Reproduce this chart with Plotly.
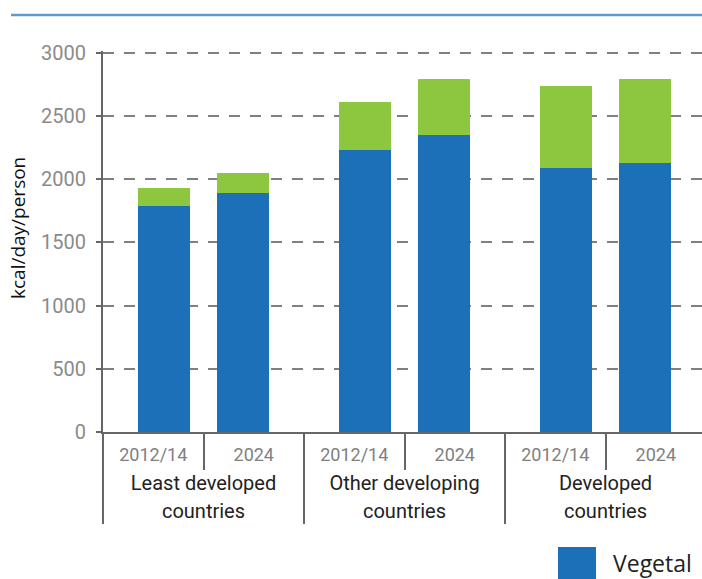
import plotly.graph_objects as go

groups = ["Least developed<br>countries", "Least developed<br>countries",
          "Other developing<br>countries", "Other developing<br>countries",
          "Developed<br>countries", "Developed<br>countries"]
years = ["2012/14", "2024", "2012/14", "2024", "2012/14", "2024"]
vegetal = [1790, 1895, 2230, 2350, 2090, 2125]
totals = [1932, 2053, 2615, 2790, 2740, 2790]
animal = [t - v for t, v in zip(totals, vegetal)]

BLUE = "#1B70B8"
GREEN = "#8DC63F"

def style_group(g):
    lines = g.split("<br>")
    return "<br>".join('<span style="color:#222;font-size:20px">' + ln + "</span>" for ln in lines)

SP = '<span style="font-size:25px"> </span>'
group_lbl = [style_group(g) for g in groups]
year_lbl = [SP + '<span style="color:#808080;font-size:18px">' + y + "</span>" + SP for y in years]
x = [group_lbl, year_lbl]

offsets = [-0.15, -0.37, -0.15, -0.37, -0.15, -0.37]
width = 0.52

fig = go.Figure()
fig.add_trace(go.Bar(x=x, y=vegetal, name="Vegetal", marker=dict(color=BLUE, line=dict(width=0)),
                     width=width, offset=offsets, showlegend=False))
fig.add_trace(go.Bar(x=x, y=animal, name="Animal", marker=dict(color=GREEN, line=dict(width=0)),
                     width=width, offset=offsets, showlegend=False))

W, H = 702, 579
L, R, T, B = 103, 0, 51, 147
pw, ph = W - L - R, H - T - B

def px(xp):
    return (xp - L) / pw

def py(yp):
    return (H - B - yp) / ph

fig.update_layout(
    barmode="stack",
    width=W, height=H,
    margin=dict(l=L, r=R, t=T, b=B, pad=0),
    plot_bgcolor="white", paper_bgcolor="white",
    showlegend=False,
    font=dict(family="Roboto", color="#777"),
)
fig.update_yaxes(
    range=[0, 3015], tickvals=[0, 500, 1000, 1500, 2000, 2500, 3000],
    showline=True, linecolor="#666", linewidth=2,
    ticks="outside", ticklen=5, tickcolor="#666", tickwidth=2,
    tickfont=dict(family="Roboto", size=20, color="#8a8a8a"),
    showgrid=True, gridcolor="#808080", gridwidth=1.5, griddash="11px,10px",
    zeroline=False, ticklabelstandoff=6,
)
fig.update_xaxes(
    type="multicategory",
    range=[-0.5, 5.46],
    showline=True, linecolor="#666", linewidth=2,
    ticks="outside", tickson="boundaries", ticklen=36, tickcolor="#666", tickwidth=2,
    tickfont=dict(family="Roboto", size=21, color="#808080"),
    ticklabelstandoff=2,
    showdividers=True, dividercolor="#666", dividerwidth=2,
    showgrid=False,
)

fig.add_shape(type="line", xref="paper", yref="paper", x0=px(11), x1=1.0, y0=py(15), y1=py(15),
              line=dict(color="#5B9BD5", width=2.5))
fig.add_shape(type="rect", xref="paper", yref="paper", x0=px(558), x1=px(596), y0=py(547), y1=py(582),
              fillcolor=BLUE, line=dict(width=0))
fig.add_annotation(text="Vegetal", xref="paper", yref="paper", x=px(611), y=py(563),
                   xanchor="left", yanchor="middle", showarrow=False,
                   font=dict(family="Open Sans", size=23, color="#222"))
fig.add_annotation(text="kcal/day/person", xref="paper", yref="paper", x=px(18), y=py(228),
                   xanchor="center", yanchor="middle", textangle=-90, showarrow=False,
                   font=dict(family="Open Sans", size=19, color="#111"))

fig.write_html("out.html")
